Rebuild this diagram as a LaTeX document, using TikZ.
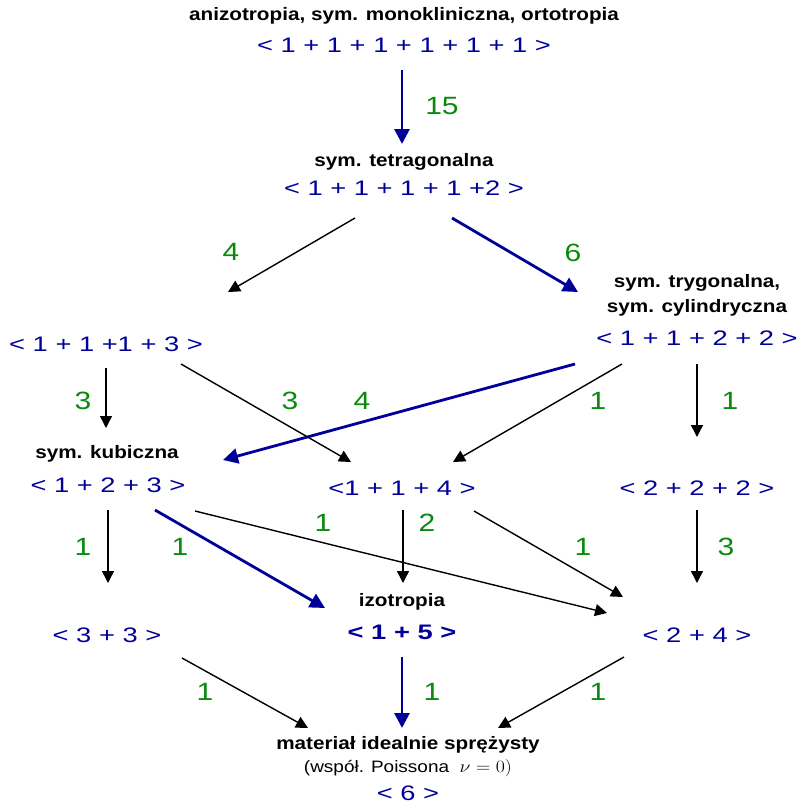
\documentclass[tikz,border=0pt]{standalone}
\usepackage[no-math]{fontspec}
\setmainfont{Liberation Sans}
\usetikzlibrary{
  arrows.meta,
  calc
}
\definecolor{seqblue}{HTML}{000099}
\definecolor{numgreen}{HTML}{0A8A0A}
% the text of the figure is set a little wider than the font
\newcommand\hx[1]{\scalebox{1.15}[1]{#1}}
\newcommand\sx[1]{\scalebox{1.3}[1]{#1}}
\newcommand\nx[1]{\scalebox{1.2}[1]{#1}}

\begin{document}
\begin{tikzpicture}[x=1pt, y=-1pt,
  head/.style={font=\bfseries\fontsize{18}{20}\selectfont, inner sep=0},
  note/.style={font=\fontsize{16.5}{18}\selectfont, inner sep=0},
  seq/.style={text=seqblue, font=\fontsize{21}{24}\selectfont, inner sep=0},
  num/.style={text=numgreen, font=\fontsize{25}{28}\selectfont, inner sep=0},
  arr/.style={-{Triangle[length=12pt,width=12pt]}, line width=1.4pt},
  barr/.style={seqblue, -{Triangle[length=15pt,width=15pt]}, line width=2.8pt}]
  \useasboundingbox (0,0) rectangle (799,804);

  % Classes
  \node[head] (anizoT) at (404,16) {\hx{anizotropia, sym. monokliniczna, ortotropia}};
  \node[seq] (anizo) at (404,45) {\sx{< 1 + 1 + 1 + 1 + 1 + 1 >}};
  \node[head] (tetT) at (404,162) {\hx{sym. tetragonalna}};
  \node[seq] (tet) at (404,188) {\sx{< 1 + 1 + 1 + 1 +2 >}};
  \node[seq] (r1113) at (106,344) {\sx{< 1 + 1 +1 + 3 >}};
  \node[head] (trygT) at (697,283) {\hx{sym. trygonalna,}};
  \node[head] (trygT2) at (697,308) {\hx{sym. cylindryczna}};
  \node[seq] (tryg) at (697,338) {\sx{< 1 + 1 + 2 + 2 >}};
  \node[head] (kubT) at (107,454) {\hx{sym. kubiczna}};
  \node[seq] (kub) at (108,485) {\sx{< 1 + 2 + 3 >}};
  \node[seq] (r114) at (402,488) {\sx{<1 + 1 + 4 >}};
  \node[seq] (r222) at (697,488) {\sx{< 2 + 2 + 2 >}};
  \node[head] (izoT) at (402,602) {\hx{izotropia}};
  \node[seq, font=\bfseries\fontsize{21}{24}\selectfont] (izo) at (402,632) {\sx{< 1 + 5 >}};
  \node[seq] (r33) at (107,635) {\sx{< 3 + 3 >}};
  \node[seq] (r24) at (697,635) {\sx{< 2 + 4 >}};
  \node[head] (matT) at (408,745) {\hx{materiał idealnie sprężysty}};
  \node[note] (matP) at (408,768) {\hx{(współ. Poissona \ $\nu=0)$}};
  \node[seq] (mat) at (408,793) {\sx{< 6 >}};

  % Blue arrows
  \draw[barr] ($(anizo)+(-2,25)$) -- ($(tetT)+(-2,-18)$);
  \draw[barr] ($(tet)+(48,30)$) -- ($(trygT)+(-119,9)$);
  \draw[barr] ($(tryg)+(-122,26)$) -- ($(kubT)+(116,6)$);
  \draw[barr] ($(kub)+(47,25)$) -- ($(izoT)+(-77,6)$);
  \draw[barr] ($(izo)+(0,25)$) -- ($(matT)+(-6,-17)$);

  % Black arrows
  \draw[arr] ($(tet)+(-49,30)$) -- ($(r1113)+(122,-52)$);
  \draw[arr] ($(r1113)+(0,24)$) -- ($(kubT)+(-1,-26)$);
  \draw[arr] ($(r1113)+(75,20)$) -- ($(r114)+(-51,-26)$);
  \draw[arr] ($(tryg)+(-75,26)$) -- ($(r114)+(51,-26)$);
  \draw[arr] ($(tryg)+(0,26)$) -- ($(r222)+(0,-51)$);
  \draw[arr] ($(kub)+(0,25)$) -- ($(r33)+(1,-52)$);
  \draw[arr] ($(kub)+(87,26)$) -- ($(r24)+(-90,-22)$);
  \draw[arr] ($(r114)+(1,22)$) -- ($(izoT)+(1,-19)$);
  \draw[arr] ($(r114)+(72,23)$) -- ($(r24)+(-74,-38)$);
  \draw[arr] ($(r222)+(0,22)$) -- ($(r24)+(0,-52)$);
  \draw[arr] ($(r33)+(75,23)$) -- ($(matT)+(-100,-17)$);
  \draw[arr] ($(r24)+(-73,22)$) -- ($(matT)+(90,-17)$);

  % Counts
  \foreach \x/\y/\t [count=\k] in {442/106/15, 231/252/4, 573/253/6,
      83/401/3, 290/401/3, 362/401/4, 598/401/1, 730/401/1,
      83/547/1, 180/547/1, 323/523/1, 427/523/2, 583/547/1, 726/547/3,
      205/692/1, 432/692/1, 598/692/1}
    \node[num] (cnt\k) at (\x,\y) {\nx{\t}};
\end{tikzpicture}
\end{document}
